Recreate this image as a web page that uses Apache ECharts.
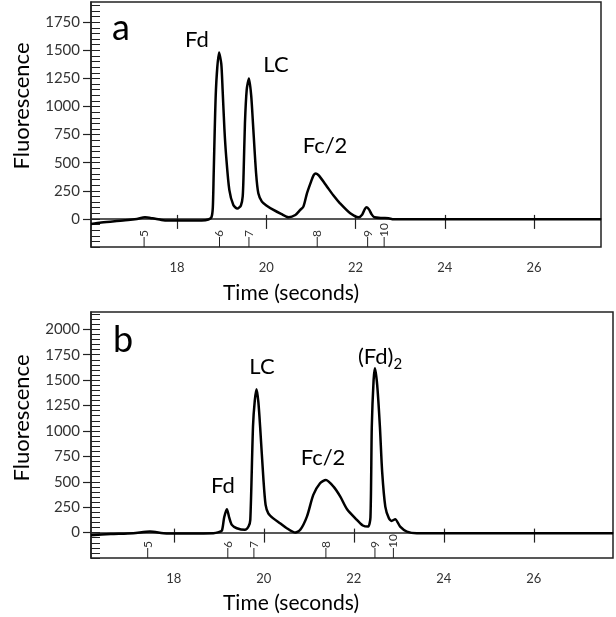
<!DOCTYPE html>
<html>
<head>
<meta charset="utf-8">
<script src="https://cdn.jsdelivr.net/npm/echarts@6/dist/echarts.min.js"></script>
<style>
html,body{margin:0;padding:0;background:#fff;}
#chart{width:616px;height:617px;}
</style>
</head>
<body>
<div id="chart"></div>
<script>
// ---- Data ----
const topTrace = [
  [16.07,-45],[16.3,-32],[16.6,-20],[16.9,-10],[17.1,0],[17.28,14],[17.45,5],[17.65,-10],[17.8,-15],
  [18.2,-15],[18.55,-14],[18.7,-5],[18.77,15],[18.8,100],[18.82,406],[18.87,1146],[18.94,1480],
  [18.99,1380],[19.02,1146],[19.06,800],[19.1,553],[19.17,258],[19.26,124],[19.35,92],[19.43,120],
  [19.47,200],[19.49,406],[19.52,850],[19.56,1150],[19.61,1250],[19.66,1100],[19.7,850],[19.77,406],
  [19.82,228],[19.9,154],[20.0,120],[20.16,80],[20.33,45],[20.5,15],[20.65,35],[20.76,80],[20.83,109],
  [20.91,228],[21.0,330],[21.06,390],[21.11,405],[21.18,385],[21.36,287],[21.5,210],[21.65,139],
  [21.88,50],[22.07,15],[22.15,40],[22.21,90],[22.25,104],[22.3,85],[22.36,40],[22.42,15],[22.6,8],
  [22.74,6],[22.85,-3],[27.5,-3]
];
const bottomTrace = [
  [16.16,-25],[16.6,-15],[17.1,-6],[17.47,10],[17.84,-8],[18.3,-8],[18.88,-6],[19.0,5],[19.07,20],
  [19.12,150],[19.18,230],[19.23,150],[19.29,76],[19.4,43],[19.58,27],[19.66,60],[19.7,125],
  [19.76,1043],[19.8,1300],[19.84,1410],[19.88,1280],[19.92,1030],[19.99,535],[20.04,272],[20.1,190],
  [20.21,140],[20.36,92],[20.51,43],[20.7,0],[20.81,27],[20.96,160],[21.1,371],[21.25,486],[21.38,518],
  [21.55,452],[21.7,354],[21.85,230],[22.07,125],[22.2,70],[22.32,59],[22.37,150],[22.4,1043],[22.44,1500],
  [22.47,1617],[22.52,1450],[22.58,1043],[22.63,600],[22.7,256],[22.78,140],[22.84,115],[22.92,131],[23.03,59],
  [23.18,10],[23.4,-6],[27.76,-6]
];
const topMarkerTimes = [17.26, 18.95, 19.61, 21.14, 22.27, 22.64];
const bottomMarkerTimes = [17.42, 19.2, 19.78, 21.38, 22.47, 22.88];
const markerLabels = ['5','6','7','8','9','10'];
const xTickLabels = [18, 20, 22, 24, 26];
const topYLabels = [0, 250, 500, 750, 1000, 1250, 1500, 1750];
const bottomYLabels = [0, 250, 500, 750, 1000, 1250, 1500, 1750, 2000];
const topYMinor = []; for (let v = -250; v <= 1900; v += 50) topYMinor.push(v);
const bottomYMinor = []; for (let v = -250; v <= 2150; v += 50) bottomYMinor.push(v);

const topRange = {xmin:16.07, xmax:27.5, ymin:-250, ymax:1930};
const botRange = {xmin:16.16, xmax:27.76, ymin:-250, ymax:2170};

const FONT = 'Lato, "Open Sans", sans-serif';
const TXT = '#333';

function xAxes(gridIndex, r) {
  return [
    {type:'value', gridIndex, position:'bottom', min:r.xmin, max:r.xmax,
     axisLine:{show:true, lineStyle:{color:'#222', width:1.5}},
     axisTick:{show:true, inside:false, length:10, customValues:xTickLabels, lineStyle:{color:'#222', width:1.2}},
     axisLabel:{show:true, customValues:xTickLabels, margin:14, fontSize:13, color:TXT, fontFamily:FONT,
       formatter: v => String(v)},
     splitLine:{show:false}},
    {type:'value', gridIndex, position:'bottom', min:r.xmin, max:r.xmax,
     axisLine:{show:false},
     axisTick:{show:true, inside:true, length:4, customValues:xTickLabels, lineStyle:{color:'#222', width:1.2}},
     axisLabel:{show:false}, splitLine:{show:false}}
  ];
}
function yAxes(gridIndex, r, labels, minor) {
  return [
    {type:'value', gridIndex, position:'left', min:r.ymin, max:r.ymax,
     axisLine:{show:true, lineStyle:{color:'#222', width:1.5}},
     axisTick:{show:true, inside:false, length:8, customValues:labels, lineStyle:{color:'#222', width:1.2}},
     axisLabel:{show:true, customValues:labels, margin:11, fontSize:15, color:TXT, fontFamily:FONT,
       formatter: v => String(v)},
     splitLine:{show:false}},
    {type:'value', gridIndex, position:'left', min:r.ymin, max:r.ymax,
     axisLine:{show:false},
     axisTick:{show:true, inside:true, length:9, customValues:minor, lineStyle:{color:'#222', width:1}},
     axisLabel:{show:false}, splitLine:{show:false}}
  ];
}
function markerSeries(xi, yi, times, ymin) {
  return {
    type:'custom', xAxisIndex:xi, yAxisIndex:yi, silent:true, clip:false,
    data: times.map((t,i)=>[t, ymin, i]),
    renderItem: function(params, api) {
      const p = api.coord([api.value(0), api.value(1)]);
      const lbl = markerLabels[api.value(2)];
      return {type:'group', children:[
        {type:'line', shape:{x1:p[0], y1:p[1], x2:p[0], y2:p[1]-10}, style:{stroke:'#222', lineWidth:1}},
        {type:'text', x:p[0], y:p[1]-10, rotation:Math.PI/2,
         style:{text:lbl, fontSize:12, fill:TXT, fontFamily:FONT, align:'left', verticalAlign:'middle'}}
      ]};
    }
  };
}
function traceSeries(xi, yi, data) {
  return {type:'line', xAxisIndex:xi, yAxisIndex:yi, data, showSymbol:false, smooth:0.25,
    lineStyle:{color:'#000', width:2.5}, itemStyle:{color:'#000'}, silent:true, animation:false};
}
const big = {fontFamily:FONT, fill:'#000'};
const chart = echarts.init(document.getElementById('chart'));
chart.setOption({
  animation:false,
  backgroundColor:'#fff',
  grid:[
    {left:91, top:2, width:510, height:245, show:true, borderColor:'#222', borderWidth:1.5, backgroundColor:'transparent'},
    {left:91, top:312, width:522, height:246, show:true, borderColor:'#222', borderWidth:1.5, backgroundColor:'transparent'}
  ],
  xAxis: [...xAxes(0, topRange), ...xAxes(1, botRange)],
  yAxis: [...yAxes(0, topRange, topYLabels, topYMinor), ...yAxes(1, botRange, bottomYLabels, bottomYMinor)],
  series:[
    traceSeries(0, 0, topTrace),
    traceSeries(2, 2, bottomTrace),
    markerSeries(0, 0, topMarkerTimes, topRange.ymin),
    markerSeries(2, 2, bottomMarkerTimes, botRange.ymin)
  ],
  graphic:[
    {type:'text', x:22, y:106, rotation:Math.PI/2, style:{text:'Fluorescence', fontSize:22, align:'center', verticalAlign:'middle', ...big}},
    {type:'text', x:22, y:418, rotation:Math.PI/2, style:{text:'Fluorescence', fontSize:22, align:'center', verticalAlign:'middle', ...big}},
    {type:'text', x:291, y:293, style:{text:'Time (seconds)', fontSize:21, align:'center', verticalAlign:'middle', ...big}},
    {type:'text', x:291, y:603, style:{text:'Time (seconds)', fontSize:21, align:'center', verticalAlign:'middle', ...big}},
    {type:'text', x:121, y:28, style:{text:'a', fontSize:36, align:'center', verticalAlign:'middle', ...big}},
    {type:'text', x:197, y:40, style:{text:'Fd', fontSize:22, align:'center', verticalAlign:'middle', ...big}},
    {type:'text', x:276, y:65, style:{text:'LC', fontSize:22, align:'center', verticalAlign:'middle', ...big}},
    {type:'text', x:325, y:146, style:{text:'Fc/2', fontSize:22, align:'center', verticalAlign:'middle', ...big}},
    {type:'text', x:123, y:340, style:{text:'b', fontSize:36, align:'center', verticalAlign:'middle', ...big}},
    {type:'text', x:262, y:367, style:{text:'LC', fontSize:22, align:'center', verticalAlign:'middle', ...big}},
    {type:'text', x:223, y:486, style:{text:'Fd', fontSize:22, align:'center', verticalAlign:'middle', ...big}},
    {type:'text', x:323, y:458, style:{text:'Fc/2', fontSize:22, align:'center', verticalAlign:'middle', ...big}},
    {type:'text', x:380, y:357, style:{text:'(Fd){s|2}', fontSize:22, align:'center', verticalAlign:'middle', ...big,
      rich:{s:{fontSize:15, fontFamily:FONT, padding:[14,0,0,0]}}}}
  ]
});
</script>
</body>
</html>
